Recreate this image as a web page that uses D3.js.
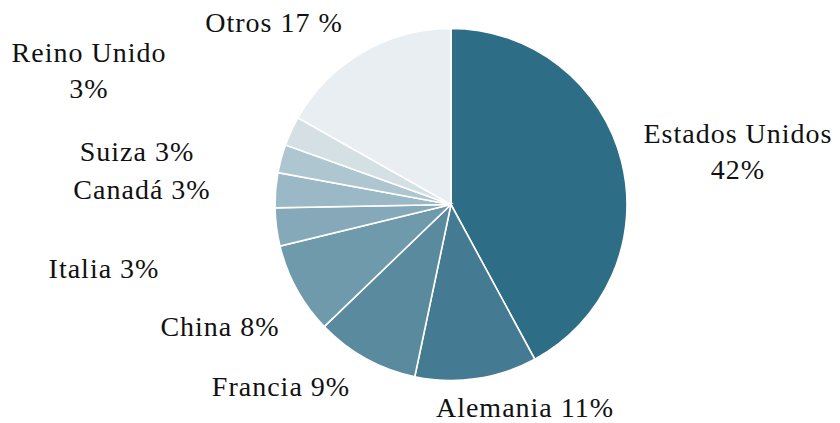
<!DOCTYPE html>
<html>
<head>
<meta charset="utf-8">
<script src="https://cdn.jsdelivr.net/npm/d3@7"></script>
<style>
  html, body { margin: 0; padding: 0; background: #fff; }
  svg { display: block; }
  text { font-family: "Times New Roman", "Liberation Serif", Times, serif; fill: #111; }
</style>
</head>
<body>
<svg id="chart" width="840" height="423"></svg>
<script>
// datos: participación por país (%)
const countries = ["Estados Unidos", "Alemania", "Francia", "China", "Italia", "Canadá", "Suiza", "Reino Unido", "Otros"];
const shares = [42.1, 11.2, 9.5, 8.4, 3.5, 3.2, 2.6, 2.7, 16.8];
const labelLines = [
  ["Estados Unidos", "42%"],
  ["Alemania 11%"],
  ["Francia 9%"],
  ["China 8%"],
  ["Italia 3%"],
  ["Canadá 3%"],
  ["Suiza 3%"],
  ["Reino Unido", "3%"],
  ["Otros 17 %"]
];
const colors = ["#2e6d86", "#457b92", "#5a8a9e", "#6e9aac", "#85a9b8", "#9ab8c5", "#aec6d0", "#d5e0e5", "#e9eef2"];

// posición de etiquetas (centro del texto, relativo al centro de la torta)
const labelPos = [
  [287, -71], [74, 203], [-170, 182], [-231, 122], [-347, 64],
  [-309, -15], [-314, -53], [-362, -152], [-177, -182]
];

const attr = { cx: 451, cy: 204.5, r: 176, lineH: 36 };

const svg = d3.select("#chart");
const g = svg.append("g").attr("transform", `translate(${attr.cx}, ${attr.cy})`);

const data = countries.map((c, i) => ({ name: c, value: shares[i], idx: i }));

const pie = d3.pie().sort(null).value(d => d.value);
const arc = d3.arc().innerRadius(0).outerRadius(attr.r);

const arcs = pie(data);

g.selectAll("path.slice")
  .data(arcs)
  .enter()
  .append("path")
  .attr("class", "slice")
  .attr("d", arc)
  .attr("fill", d => colors[d.data.idx])
  .attr("stroke", "#fff")
  .attr("stroke-width", 1.6);

const labels = g.selectAll("text.lbl")
  .data(arcs)
  .enter()
  .append("text")
  .attr("class", "lbl")
  .attr("text-anchor", "middle")
  .style("font-size", "28px")
  .style("letter-spacing", "1px");

labels.each(function(d) {
  const lines = labelLines[d.data.idx];
  const [px, py] = labelPos[d.data.idx];
  const t = d3.select(this);
  lines.forEach((ln, k) => {
    t.append("tspan")
      .attr("x", px)
      .attr("y", py + k * attr.lineH)
      .attr("dy", "0.35em")
      .text(ln);
  });
});
</script>
</body>
</html>
